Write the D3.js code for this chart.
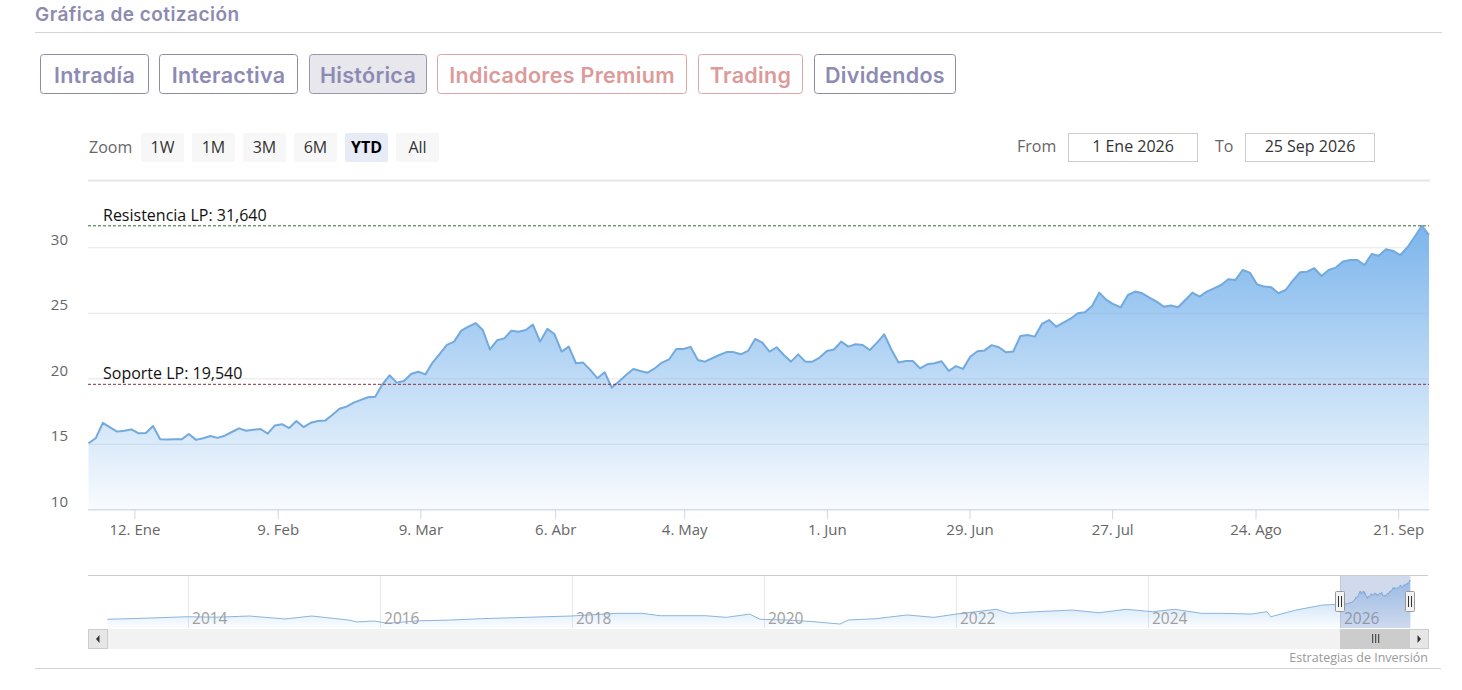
<!DOCTYPE html>
<html><head><meta charset="utf-8">
<script src="https://cdn.jsdelivr.net/npm/d3@7"></script>
<style>
html,body{margin:0;padding:0;background:#fff;}
svg{display:block;}
</style></head><body>
<svg id="chart" width="1462" height="690"></svg>
<script>
// ---------------- DATA ----------------
// Daily closes, YTD 2026 (trading days 2 Ene .. 25 Sep)
const prices = [
15.04,15.42,16.6,16.25,15.93,16.0,16.1,15.8,15.83,16.36,
15.34,15.33,15.34,15.34,15.75,15.3,15.42,15.6,15.45,15.62,
15.9,16.18,16.0,16.07,16.13,15.78,16.4,16.5,16.2,16.74,
16.28,16.6,16.74,16.77,17.2,17.68,17.84,18.14,18.35,18.55,
18.6,19.54,20.23,19.67,19.8,20.33,20.5,20.3,21.2,21.86,
22.55,22.8,23.64,23.94,24.22,23.69,22.2,22.9,23.05,23.64,
23.56,23.69,24.1,22.8,23.77,23.38,22.04,22.42,21.15,21.2,
20.64,20.0,20.46,19.29,19.75,20.25,20.71,20.56,20.43,20.76,
21.2,21.45,22.24,22.24,22.4,21.4,21.27,21.53,21.78,22.0,
22.0,21.83,22.09,23.0,22.72,22.04,22.37,21.78,21.27,21.83,
21.27,21.27,21.58,22.09,22.2,22.8,22.42,22.6,22.54,22.16,
22.72,23.36,22.2,21.2,21.32,21.32,20.76,21.07,21.15,21.3,
20.56,20.93,20.72,21.65,22.06,22.13,22.53,22.37,21.98,22.04,
23.23,23.31,23.18,24.15,24.45,23.94,24.25,24.55,24.96,25.04,
25.52,26.54,25.98,25.65,25.42,26.36,26.62,26.49,26.16,25.85,
25.47,25.55,25.42,25.98,26.54,26.23,26.62,26.87,27.12,27.56,
27.51,28.27,28.07,27.18,27.0,26.95,26.49,26.74,27.46,28.09,
28.14,28.4,27.81,28.27,28.45,28.91,29.03,29.03,28.65,29.49,
29.36,29.85,29.72,29.41,30.0,30.81,31.64,30.94
];
// x-axis ticks (position in trading-day index) and labels
const xTickIndex  = [6.4, 26.4, 46.3, 65.1, 83.1, 103, 122.9, 142.8, 162.8, 182.7];
const xTickLabels = ["12. Ene","9. Feb","9. Mar","6. Abr","4. May","1. Jun","29. Jun","27. Jul","24. Ago","21. Sep"];
const yTicks = [10, 15, 20, 25, 30];
const resistance = 31.64, support = 19.54;
const resistanceLabel = "Resistencia LP: 31,640";
const supportLabel = "Soporte LP: 19,540";

// Navigator history (decimal year, close) before 2026
const navYears  = [2013.16,2013.5,2013.99,2014.3,2014.64,2015.01,2015.29,2015.67,2015.76,2015.94,2016.08,2016.41,2016.7,2017.06,2017.52,2017.99,2018.46,2018.73,2018.92,2019.39,2019.61,2019.85,2019.96,2020.24,2020.51,2020.79,2020.88,2021.17,2021.49,2021.77,2022.0,2022.42,2022.56,2022.84,2023.21,2023.49,2023.77,2024.05,2024.28,2024.56,2024.79,2025.07,2025.24,2025.28,2025.54,2025.82,2025.97];
const navValues = [5.2,5.8,6.9,6.6,7.4,5.4,7.4,4.7,3.4,4.0,2.5,4.2,4.6,5.6,6.5,7.4,9.2,9.2,7.6,7.6,6.5,8.7,5.2,4.7,3.6,2.0,4.7,5.6,8.1,6.5,8.7,11.9,9.2,10.3,11.4,9.6,11.9,10.3,11.9,9.2,9.2,8.7,10.3,6.9,11.4,14.8,15.2];
const navYearTicks = [2014, 2016, 2018, 2020, 2022, 2024, 2026];
const ytdStartYear = 2026.0, ytdEndYear = 2026.734;

const title = "Gráfica de cotización";
const tabs = [
  {label:"Intradía", kind:"p"},
  {label:"Interactiva", kind:"p"},
  {label:"Histórica", kind:"sel"},
  {label:"Indicadores Premium", kind:"r"},
  {label:"Trading", kind:"r"},
  {label:"Dividendos", kind:"p"}
];
const tabBoxes = [[40,148],[159,297],[309,426],[437,686],[698,802],[814,955]];
const rangeButtons = ["1W","1M","3M","6M","YTD","All"];
const rangeSelected = "YTD";
const fromDate = "1 Ene 2026", toDate = "25 Sep 2026";
const credits = "Estrategias de Inversión";

// ---------------- DRAW ----------------
const svg = d3.select("#chart");
const uiFont = "'Open Sans', sans-serif";
const headFont = "Inter, 'Noto Sans', sans-serif";

// Title
svg.append("text").attr("x",35).attr("y",14).attr("dy","0.35em")
  .attr("font-family",headFont).attr("font-weight",600).attr("font-size",19)
  .attr("letter-spacing",0.45).attr("fill","#8d8ab2").text(title);
svg.append("line").attr("x1",35).attr("x2",1442).attr("y1",32.5).attr("y2",32.5)
  .attr("stroke","#d4d4d8");

// Tabs
const tabColor = {p:"#8d8ab4", sel:"#8d8ab4", r:"#dc9a9a"};
const tabBorder = {p:"#8f8ca8", sel:"#9a98ae", r:"#e0a5a5"};
tabs.forEach((t,i)=>{
  const [x0,x1] = tabBoxes[i];
  const g = svg.append("g");
  g.append("rect").attr("x",x0+0.5).attr("y",54.5).attr("width",x1-x0).attr("height",39)
    .attr("rx",3).attr("fill", t.kind==="sel" ? "#e7e7ec" : "#fff")
    .attr("stroke",tabBorder[t.kind]);
  g.append("text").attr("x",(x0+x1)/2+0.5).attr("y",75).attr("dy","0.35em")
    .attr("text-anchor","middle").attr("font-family",headFont).attr("font-weight",600)
    .attr("font-size",21.5).attr("letter-spacing",0.3).attr("fill",tabColor[t.kind]).text(t.label);
});

// Range selector
svg.append("text").attr("x",89).attr("y",147).attr("dy","0.35em")
  .attr("font-family",uiFont).attr("font-size",16).attr("fill","#666").text("Zoom");
rangeButtons.forEach((b,i)=>{
  const x0 = 141 + i*51;
  const sel = b===rangeSelected;
  svg.append("rect").attr("x",x0).attr("y",133).attr("width",43).attr("height",29).attr("rx",2)
    .attr("fill", sel ? "#e6ebf5" : "#f7f7f7");
  svg.append("text").attr("x",x0+21.5).attr("y",147).attr("dy","0.35em").attr("text-anchor","middle")
    .attr("font-family",uiFont).attr("font-size",16).attr("font-weight", sel?700:400)
    .attr("fill", sel ? "#000" : "#333").text(b);
});
svg.append("text").attr("x",1017).attr("y",146).attr("dy","0.35em")
  .attr("font-family",uiFont).attr("font-size",16).attr("fill","#666").text("From");
svg.append("text").attr("x",1215).attr("y",146).attr("dy","0.35em")
  .attr("font-family",uiFont).attr("font-size",16).attr("fill","#666").text("To");
[[1068,fromDate],[1245,toDate]].forEach(([x0,t])=>{
  svg.append("rect").attr("x",x0+0.5).attr("y",133.5).attr("width",129).attr("height",28)
    .attr("fill","#fff").attr("stroke","#cccccc");
  svg.append("text").attr("x",x0+65).attr("y",146).attr("dy","0.35em").attr("text-anchor","middle")
    .attr("font-family",uiFont).attr("font-size",16).attr("fill","#333").text(t);
});
svg.append("line").attr("x1",88).attr("x2",1430).attr("y1",180.5).attr("y2",180.5)
  .attr("stroke","#e6e6e6").attr("stroke-width",2);

// Main chart scales
const plotL = 88, plotR = 1429;
const x = d3.scaleLinear().domain([0, prices.length-1]).range([plotL+0.5, plotR]);
const y = d3.scaleLinear().domain([10, 30]).range([509.3, 247.3]);

// Y grid + labels
const yAxis = d3.axisLeft(y).tickValues(yTicks).tickSize(-(plotR-plotL)).tickFormat(d3.format("d"));
const gy = svg.append("g").attr("transform",`translate(${plotL},0)`).call(yAxis);
gy.select(".domain").remove();
gy.selectAll(".tick line").attr("stroke","#e6e6e6");
gy.selectAll(".tick text").attr("x",-20).attr("y",-8).attr("dy","0.32em")
  .attr("font-family",uiFont).attr("font-size",15).attr("fill","#666");

// Area
const defs = svg.append("defs");
const grad = defs.append("linearGradient").attr("id","areaGrad")
  .attr("gradientUnits","userSpaceOnUse").attr("x1",0).attr("x2",0)
  .attr("y1",y(resistance)).attr("y2",y(10));
grad.append("stop").attr("offset",0).attr("stop-color","#7cb5ec").attr("stop-opacity",1);
grad.append("stop").attr("offset",1).attr("stop-color","#7cb5ec").attr("stop-opacity",0.05);

const area = d3.area().x((d,i)=>x(i)).y0(y(10)).y1(d=>y(d));
const line = d3.line().x((d,i)=>x(i)).y(d=>y(d));
svg.append("path").datum(prices).attr("d",area).attr("fill","url(#areaGrad)");
svg.append("path").datum(prices).attr("d",line).attr("fill","none")
  .attr("stroke","#72a9de").attr("stroke-width",2).attr("stroke-linejoin","round");

// X axis
const xAxis = d3.axisBottom(x).tickValues(xTickIndex).tickSize(10)
  .tickFormat((d,i)=>xTickLabels[i]);
const gx = svg.append("g").attr("transform",`translate(0,${y(10)})`).call(xAxis);
gx.select(".domain").attr("stroke","#ccd6eb").attr("d",`M${plotL},0.5H${plotR}`);
gx.selectAll(".tick line").attr("stroke","#ccd6eb");
gx.selectAll(".tick text").attr("y",15).attr("dy","0.71em")
  .attr("font-family",uiFont).attr("font-size",15).attr("fill","#666");

// Resistance / support lines
[[resistance,"#2f6b35",resistanceLabel],[support,"#8e2f3c",supportLabel]].forEach(([v,c,lab])=>{
  svg.append("line").attr("x1",plotL).attr("x2",plotR).attr("y1",y(v)).attr("y2",y(v))
    .attr("stroke",c).attr("stroke-width",1).attr("stroke-dasharray","3,2");
  svg.append("text").attr("x",103).attr("y",y(v)-5)
    .attr("font-family",uiFont).attr("font-size",16).attr("fill","#111").text(lab);
});

// ---------------- NAVIGATOR ----------------
const navTop = 575, navBot = 628;
const nx = d3.scaleLinear().domain([2012.958, 2026.917]).range([plotL, 1428]);
const ytdYears = prices.map((p,i)=> 2026 + (1 + i*266/(prices.length-1))/365);
const navData = navYears.map((t,i)=>[t, navValues[i]]).concat(prices.map((p,i)=>[ytdYears[i], p]));
const ny = d3.scaleLinear().domain([0, d3.max(navData, d=>d[1])]).range([627, 580]);

svg.append("line").attr("x1",plotL).attr("x2",1428).attr("y1",navTop+0.5).attr("y2",navTop+0.5)
  .attr("stroke","#cccccc");
svg.selectAll(".navgrid").data(navYearTicks).enter().append("line")
  .attr("x1",d=>Math.round(nx(d))+0.5).attr("x2",d=>Math.round(nx(d))+0.5)
  .attr("y1",navTop+1).attr("y2",navBot).attr("stroke","#e6e6e6");

const ngrad = defs.append("linearGradient").attr("id","navGrad")
  .attr("gradientUnits","userSpaceOnUse").attr("x1",0).attr("x2",0).attr("y1",580).attr("y2",628);
ngrad.append("stop").attr("offset",0).attr("stop-color","#7cb5ec").attr("stop-opacity",0.6);
ngrad.append("stop").attr("offset",1).attr("stop-color","#7cb5ec").attr("stop-opacity",0.03);
svg.append("path").datum(navData)
  .attr("d", d3.area().x(d=>nx(d[0])).y0(navBot).y1(d=>ny(d[1])))
  .attr("fill","url(#navGrad)");
svg.append("path").datum(navData)
  .attr("d", d3.line().x(d=>nx(d[0])).y(d=>ny(d[1])))
  .attr("fill","none").attr("stroke","#8ab5de").attr("stroke-width",1);

svg.selectAll(".navlab").data(navYearTicks).enter().append("text")
  .attr("x",d=>nx(d)+4).attr("y",619).attr("dy","0.35em")
  .attr("font-family",uiFont).attr("font-size",15.5).attr("fill","#a0a0a0").text(d=>d);

// selected mask
const sx0 = nx(ytdStartYear), sx1 = nx(ytdEndYear);
svg.append("rect").attr("x",sx0).attr("y",navTop+1).attr("width",sx1-sx0).attr("height",navBot-navTop-1)
  .attr("fill","rgba(102,133,194,0.3)");
// handles
[sx0, sx1].forEach(hx=>{
  svg.append("rect").attr("x",Math.round(hx)-4.5).attr("y",591.5).attr("width",9).attr("height",20)
    .attr("fill","#f2f2f2").attr("stroke","#999").attr("rx",1);
  [-1.5,1.5].forEach(o=>svg.append("line").attr("x1",Math.round(hx)+o).attr("x2",Math.round(hx)+o)
    .attr("y1",596).attr("y2",607).attr("stroke","#333"));
});

// scrollbar
svg.append("rect").attr("x",plotL).attr("y",629).attr("width",1429-plotL).attr("height",20).attr("fill","#f2f2f2");
svg.append("rect").attr("x",sx0).attr("y",629).attr("width",sx1-sx0).attr("height",20).attr("fill","#cccccc");
[-3,0,3].forEach(o=>svg.append("line").attr("x1",(sx0+sx1)/2+o+0.5).attr("x2",(sx0+sx1)/2+o+0.5)
  .attr("y1",634).attr("y2",643).attr("stroke","#333"));
[[plotL,-1],[1409,1]].forEach(([bx,dir])=>{
  svg.append("rect").attr("x",bx+0.5).attr("y",629.5).attr("width",19).attr("height",19)
    .attr("fill","#e6e6e6").attr("stroke","#cccccc");
  const cx = bx+10, cy = 639;
  svg.append("path").attr("d", dir<0 ? `M${cx+1.5},${cy-4}L${cx-2},${cy}L${cx+1.5},${cy+4}Z`
                                        : `M${cx-1.5},${cy-4}L${cx+2},${cy}L${cx-1.5},${cy+4}Z`)
    .attr("fill","#333");
});

// credits + bottom line
svg.append("text").attr("x",1428).attr("y",658).attr("dy","0.35em").attr("text-anchor","end")
  .attr("font-family",uiFont).attr("font-size",12.5).attr("fill","#999").text(credits);
svg.append("line").attr("x1",35).attr("x2",1441).attr("y1",668.5).attr("y2",668.5).attr("stroke","#d4d4d8");
</script>
</body></html>
